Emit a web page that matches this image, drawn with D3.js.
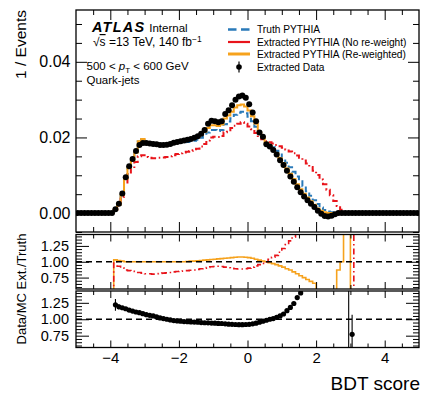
<!DOCTYPE html>
<html><head><meta charset="utf-8">
<script src="https://cdn.jsdelivr.net/npm/d3@7"></script>
<style>
body{margin:0;background:#fff}
svg{display:block}
text{font-family:"Liberation Sans",Arial,Helvetica,sans-serif}
</style>
</head><body>
<svg id="chart" width="422" height="394"></svg>
<script>
// Binning of the BDT score: 100 bins of width 0.1 from -5 to 5
const binLow = -5;
const binWidth = 0.1;

// Normalised distributions (1/Events), one value per bin
const truthPythia = [
 0,0,0,0,0,0,0,0,0,0,0,
 0.0009,0.0022,0.0048,0.0090,0.0120,0.0140,0.0160,0.0189,0.0195,
 0.0187,0.0186,0.0185,0.0184,0.0183,0.0182,0.0182,0.0183,0.0184,0.0185,
 0.0186,0.0187,0.0188,0.0189,0.0191,0.0194,0.0199,0.0205,0.0213,0.0220,
 0.0220,0.0217,0.0220,0.0235,0.0242,0.0251,0.0260,0.0265,0.0268,0.0264,
 0.0255,0.0243,0.0228,0.0210,0.0198,0.0186,0.0181,0.0174,0.0165,0.0155,
 0.0144,0.0133,0.0121,0.0109,0.0097,0.0084,0.0071,0.0058,0.0046,0.0034,
 0.0024,0.0015,0.0008,0.0004,0.0002,0.0001,0.00002,0.00002,0.00001,0.00001,
 0,0,0,0,0,0,0,0,0,0,0,0,0,0,0,0,0,0,0,0
];
const extractedNoReweight = [
 0,0,0,0,0,0,0,0,0,0,0,
 0.0009,0.0020,0.0043,0.0078,0.0103,0.0119,0.0135,0.0150,0.0153,
 0.0148,0.0146,0.0145,0.0145,0.0146,0.0147,0.0148,0.0150,0.0153,0.0156,
 0.0158,0.0160,0.0162,0.0164,0.0166,0.0170,0.0176,0.0183,0.0192,0.0200,
 0.0202,0.0201,0.0204,0.0214,0.0219,0.0225,0.0231,0.0236,0.0240,0.0236,
 0.0229,0.0222,0.0212,0.0201,0.0195,0.0190,0.0187,0.0184,0.0180,0.0177,
 0.0173,0.0168,0.0163,0.0158,0.0152,0.0146,0.0139,0.0131,0.0122,0.0112,
 0.0101,0.0089,0.0076,0.0062,0.0047,0.0032,0.0019,0.0009,0.0003,0.0001,
 0.00005,0,0,0,0,0,0,0,0,0,0,0,0,0,0,0,0,0,0,0
];
const extractedReweighted = [
 0,0,0,0,0,0,0,0,0,0,0,
 0.0009,0.0022,0.0048,0.0090,0.0120,0.0140,0.0160,0.0190,0.0196,
 0.0187,0.0186,0.0185,0.0184,0.0183,0.0182,0.0183,0.0184,0.0186,0.0188,
 0.0189,0.0191,0.0193,0.0195,0.0198,0.0202,0.0208,0.0215,0.0225,0.0232,
 0.0232,0.0230,0.0234,0.0250,0.0258,0.0268,0.0279,0.0285,0.0287,0.0282,
 0.0271,0.0256,0.0237,0.0214,0.0201,0.0186,0.0178,0.0168,0.0158,0.0145,
 0.0132,0.0118,0.0104,0.0090,0.0076,0.0063,0.0051,0.0041,0.0031,0.0022,
 0.0012,0.0006,0.0002,0,0,0,0.00002,0.00002,0.00003,0.00002,
 0,0,0,0,0,0,0,0,0,0,0,0,0,0,0,0,0,0,0,0
];
const extractedData = [
 0,0,0,0,0,0,0,0,0,0,0,
 0.0010,0.0025,0.0052,0.0095,0.0124,0.0143,0.0164,0.0180,0.0185,
 0.0185,0.0184,0.0183,0.0182,0.0180,0.0180,0.0181,0.0183,0.0186,0.0188,
 0.0190,0.0192,0.0194,0.0196,0.0199,0.0203,0.0210,0.0220,0.0236,0.0244,
 0.0243,0.0240,0.0243,0.0262,0.0272,0.0285,0.0300,0.0308,0.0311,0.0305,
 0.0288,0.0266,0.0243,0.0213,0.0202,0.0182,0.0176,0.0167,0.0155,0.0140,
 0.0127,0.0112,0.0097,0.0083,0.0068,0.0055,0.0044,0.0034,0.0025,0.0016,
 0.0006,-0.0002,-0.0008,-0.0009,-0.0007,-0.0003,0,0,0,0,
 0,0,0,0,0,0,0,0,0,0,0,0,0,0,0,0,0,0,0,0
];

// Extracted / Truth ratios
const ratioReweighted = [
 0,0,0,0,0,0,0,0,0,0,0,
 1.03,1.02,1.01,1.00,1.00,1.00,1.00,1.00,1.00,
 1.00,1.00,1.00,1.00,1.00,1.00,1.00,1.00,1.00,1.00,
 1.00,1.00,1.005,1.01,1.01,1.015,1.02,1.025,1.03,1.035,
 1.04,1.045,1.05,1.055,1.06,1.065,1.07,1.075,1.075,1.07,
 1.065,1.055,1.04,1.025,1.01,1.00,0.985,0.97,0.955,0.935,
 0.915,0.89,0.87,0.84,0.81,0.78,0.75,0.72,0.69,0.66,
 0.50,0.40,0.25,0,0,0,0.87,1.00,3.0,2.0,
 0,0,0,0,0,0,0,0,0,0,0,0,0,0,0,0,0,0,0,0
];
const ratioNoReweight = [
 0,0,0,0,0,0,0,0,0,0,0,
 1.00,0.93,0.90,0.87,0.86,0.85,0.845,0.83,0.82,
 0.81,0.81,0.805,0.81,0.815,0.82,0.825,0.83,0.84,0.845,
 0.85,0.855,0.86,0.865,0.87,0.88,0.89,0.90,0.91,0.92,
 0.925,0.93,0.925,0.915,0.905,0.895,0.89,0.885,0.885,0.89,
 0.90,0.915,0.935,0.955,0.975,1.00,1.04,1.07,1.10,1.15,
 1.21,1.27,1.33,1.39,1.47,1.60,1.75,1.95,2.2,2.6,
 3.1,3.9,5.0,7.0,10,15,25,40,60,80,
 100,0,0,0,0,0,0,0,0,0,0,0,0,0,0,0,0,0,0,0
];

// Data / MC ratio with its uncertainty (null: no point drawn)
const dataOverMC = [
 null,null,null,null,null,null,null,null,null,null,null,
 1.22,1.19,1.175,1.16,1.14,1.125,1.11,1.10,1.085,
 1.07,1.06,1.05,1.035,1.02,1.01,1.00,0.99,0.98,0.975,
 0.97,0.965,0.962,0.96,0.957,0.955,0.95,0.947,0.945,0.942,
 0.94,0.937,0.935,0.93,0.925,0.922,0.92,0.918,0.918,0.92,
 0.922,0.93,0.94,0.955,0.97,0.985,1.00,1.01,1.03,1.05,
 1.08,1.13,1.18,1.24,1.33,1.40,1.48,1.60,1.75,1.95,
 2.3,null,null,null,null,null,null,null,null,2.0,
 0.77,null,null,null,null,null,null,null,null,null,null,null,null,null,null,null,null,null,null,null
];
const dataOverMCErr = [
 0,0,0,0,0,0,0,0,0,0,0,
 0.09,0.04,0.025,0.015,0.015,0.015,0.015,0.012,0.012,
 0.01,0.01,0.01,0.01,0.01,0.01,0.01,0.01,0.01,0.01,
 0.01,0.01,0.01,0.01,0.01,0.01,0.01,0.01,0.01,0.01,
 0.01,0.01,0.01,0.01,0.01,0.01,0.01,0.01,0.01,0.01,
 0.01,0.01,0.01,0.01,0.01,0.01,0.01,0.01,0.012,0.012,
 0.015,0.015,0.02,0.02,0.025,0.03,0.03,0.04,0.05,0.06,
 0.1,0,0,0,0,0,0,0,0,3.0,
 0.3,0,0,0,0,0,0,0,0,0,0,0,0,0,0,0,0,0,0,0
];

// Axis ticks
const xMajorTicks = [-4, -2, 0, 2, 4];
const xMinorTicks = [-4.5,-3.5,-3,-2.5,-1.5,-1,-0.5,0.5,1,1.5,2.5,3,3.5,4.5];
const yMainMajor = [0, 0.02, 0.04];
const yMainMinor = [-0.005,0.005,0.01,0.015,0.025,0.03,0.035,0.045,0.05];
const yRatioMajor = [0.75, 1.00, 1.25];
const yRatioMinor = [0.6,0.65,0.7,0.8,0.85,0.9,0.95,1.05,1.1,1.15,1.2,1.3,1.35,1.4];

const colTruth = "#2a7ab9", colNoRw = "#e8141b", colRw = "#f6a21d";
const FONT = '"Liberation Sans",Arial,Helvetica,sans-serif';

const svg = d3.select("#chart");
svg.append("rect").attr("width",422).attr("height",394).attr("fill","#fff");

const X0 = 76, X1 = 419;
const x = d3.scaleLinear().domain([-5, 5]).range([X0, X1]);

const panels = [
  {id:"main", top:10, bottom:232, y:d3.scaleLinear().domain([-0.005,0.0537]).range([232,10])},
  {id:"r1", top:234.5, bottom:289, y:d3.scaleLinear().domain([0.57,1.43]).range([289,234.5])},
  {id:"r2", top:291, bottom:347.5, y:d3.scaleLinear().domain([0.57,1.43]).range([347.5,291])}
];
const defs = svg.append("defs");
panels.forEach(p => {
  defs.append("clipPath").attr("id","clip-"+p.id)
    .append("rect").attr("x",X0).attr("y",p.top).attr("width",X1-X0).attr("height",p.bottom-p.top);
  p.g = svg.append("g").attr("clip-path","url(#clip-"+p.id+")");
});
const [pMain, pR1, pR2] = panels;

// step-histogram outline through every bin edge
function stepPath(vals, y) {
  const pts = [];
  vals.forEach((v, i) => {
    const lo = binLow + i*binWidth;
    pts.push([lo, v], [lo + binWidth, v]);
  });
  return d3.line().x(d => x(d[0])).y(d => y(d[1]))(pts);
}
const centre = i => binLow + (i + 0.5)*binWidth;

// ---- main panel ----
pMain.g.append("path").attr("d", stepPath(truthPythia, pMain.y))
  .attr("fill","none").attr("stroke",colTruth).attr("stroke-width",2).attr("stroke-dasharray","6,3.5");
pMain.g.append("path").attr("d", stepPath(extractedNoReweight, pMain.y))
  .attr("fill","none").attr("stroke",colNoRw).attr("stroke-width",2).attr("stroke-dasharray","6,3,1.5,3");
pMain.g.append("path").attr("d", stepPath(extractedReweighted, pMain.y))
  .attr("fill","none").attr("stroke",colRw).attr("stroke-width",2);
pMain.g.selectAll("circle.data").data(extractedData).join("circle")
  .attr("class","data").attr("cx",(d,i)=>x(centre(i))).attr("cy",d=>pMain.y(d))
  .attr("r",3).attr("fill","#000");

// ---- ratio panel: extracted / truth ----
pR1.g.append("path").attr("d", stepPath(ratioReweighted, pR1.y))
  .attr("fill","none").attr("stroke",colRw).attr("stroke-width",1.6);
pR1.g.append("path").attr("d", stepPath(ratioNoReweight, pR1.y))
  .attr("fill","none").attr("stroke",colNoRw).attr("stroke-width",1.6).attr("stroke-dasharray","6,3,1.5,3");

// ---- ratio panel: data / MC ----
const pts = dataOverMC.map((v,i)=>({v, e:dataOverMCErr[i], c:centre(i)})).filter(d=>d.v!==null);
pR2.g.selectAll("line.err").data(pts).join("line").attr("class","err")
  .attr("x1",d=>x(d.c)).attr("x2",d=>x(d.c))
  .attr("y1",d=>pR2.y(d.v-d.e)).attr("y2",d=>pR2.y(d.v+d.e))
  .attr("stroke","#000").attr("stroke-width",1.1);
pR2.g.selectAll("circle.pt").data(pts).join("circle").attr("class","pt")
  .attr("cx",d=>x(d.c)).attr("cy",d=>pR2.y(d.v)).attr("r",2.6).attr("fill","#000");

// unity reference lines
[pR1, pR2].forEach(p => {
  svg.append("line").attr("x1",X0).attr("x2",X1).attr("y1",p.y(1)).attr("y2",p.y(1))
    .attr("stroke","#000").attr("stroke-width",1.6).attr("stroke-dasharray","6,4");
});

// ---- axes (ticks pointing inwards on all four sides) ----
function styleAxis(g){ g.select(".domain").remove(); g.selectAll("line").attr("stroke","#000").attr("stroke-width",1); }
panels.forEach((p, k) => {
  const majX = k === 0 ? 10 : 7, minX = k === 0 ? 5 : 4;
  const showLabels = k === 2;
  svg.append("g").attr("transform",`translate(0,${p.bottom})`)
    .call(d3.axisBottom(x).tickValues(xMinorTicks).tickSize(-minX).tickFormat("")).call(styleAxis);
  const gb = svg.append("g").attr("transform",`translate(0,${p.bottom})`)
    .call(d3.axisBottom(x).tickValues(xMajorTicks).tickSize(-majX).tickPadding(4.5)
      .tickFormat(showLabels ? d3.format("d") : "")).call(styleAxis);
  gb.selectAll("text").attr("font-size",15).attr("font-family",FONT).attr("fill","#000");
  svg.append("g").attr("transform",`translate(0,${p.top})`)
    .call(d3.axisTop(x).tickValues(xMinorTicks).tickSize(-minX).tickFormat("")).call(styleAxis);
  svg.append("g").attr("transform",`translate(0,${p.top})`)
    .call(d3.axisTop(x).tickValues(xMajorTicks).tickSize(-majX).tickFormat("")).call(styleAxis);

  const yMaj = k === 0 ? yMainMajor : yRatioMajor;
  const yMin = k === 0 ? yMainMinor : yRatioMinor;
  const majY = k === 0 ? 11 : 13, minY = k === 0 ? 6 : 6;
  const fmt = d3.format(".2f");
  const gl = svg.append("g").attr("transform",`translate(${X0},0)`)
    .call(d3.axisLeft(p.y).tickValues(yMaj).tickSize(-majY).tickPadding(k===0?5.5:7).tickFormat(fmt)).call(styleAxis);
  gl.selectAll("text").attr("font-size",k===0?16:14.5).attr("font-family",FONT).attr("fill","#000");
  svg.append("g").attr("transform",`translate(${X0},0)`)
    .call(d3.axisLeft(p.y).tickValues(yMin).tickSize(-minY).tickFormat("")).call(styleAxis);
  svg.append("g").attr("transform",`translate(${X1},0)`)
    .call(d3.axisRight(p.y).tickValues(yMaj).tickSize(-majY).tickFormat("")).call(styleAxis);
  svg.append("g").attr("transform",`translate(${X1},0)`)
    .call(d3.axisRight(p.y).tickValues(yMin).tickSize(-minY).tickFormat("")).call(styleAxis);

  svg.append("rect").attr("x",X0).attr("y",p.top).attr("width",X1-X0).attr("height",p.bottom-p.top)
    .attr("fill","none").attr("stroke","#000").attr("stroke-width",1.3);
});

// ---- axis titles ----
svg.append("text").attr("transform","translate(26,10) rotate(-90)").attr("text-anchor","end")
  .attr("font-size",15.5).text("1 / Events");
svg.append("text").attr("transform","translate(26,289) rotate(-90)").attr("text-anchor","middle")
  .attr("font-size",13).text("Data/MC Ext./Truth");
svg.append("text").attr("x",420).attr("y",390).attr("text-anchor","end")
  .attr("font-size",19).text("BDT score");

// ---- ATLAS label block ----
const atlas = svg.append("text").attr("x",92).attr("y",32);
atlas.append("tspan").attr("font-size",14.5).attr("font-weight","bold").attr("font-style","italic")
  .attr("letter-spacing",1.2).text("ATLAS");
atlas.append("tspan").attr("font-size",11.5).attr("dx",4).text("Internal");

const energy = svg.append("text").attr("x",93).attr("y",46).attr("font-size",12);
energy.append("tspan").text("\u221A");
energy.append("tspan").attr("text-decoration","overline").text("s");
energy.append("tspan").text(" =13 TeV, 140 fb");
energy.append("tspan").attr("font-size",8.5).attr("dy",-4.5).text("\u22121");

const ptl = svg.append("text").attr("x",86.5).attr("y",70).attr("font-size",11.5);
ptl.append("tspan").text("500 < ");
ptl.append("tspan").attr("font-style","italic").text("p");
ptl.append("tspan").attr("font-size",8).attr("dy",2.5).text("T");
ptl.append("tspan").attr("dy",-2.5).text(" < 600 GeV");
svg.append("text").attr("x",86.5).attr("y",84).attr("font-size",11.5).text("Quark-jets");

// ---- legend ----
const legendRows = [
  {label:"Truth PYTHIA", kind:"line", color:colTruth, dash:"8.5,4.5", w:2.6},
  {label:"Extracted PYTHIA (No re-weight)", kind:"line", color:colNoRw, dash:null, w:2.2},
  {label:"Extracted PYTHIA (Re-weighted)", kind:"line", color:colRw, dash:null, w:3},
  {label:"Extracted Data", kind:"point"}
];
const legendY = [29.5, 42, 54, 67];
legendRows.forEach((r, i) => {
  const yy = legendY[i];
  if (r.kind === "line") {
    const l = svg.append("line").attr("x1",228).attr("x2",250).attr("y1",yy).attr("y2",yy)
      .attr("stroke",r.color).attr("stroke-width",r.w);
    if (r.dash) l.attr("stroke-dasharray",r.dash);
  } else {
    svg.append("line").attr("x1",239).attr("x2",239).attr("y1",yy-5.5).attr("y2",yy+5.5)
      .attr("stroke","#000").attr("stroke-width",1.2);
    svg.append("circle").attr("cx",239).attr("cy",yy).attr("r",2.8).attr("fill","#000");
  }
  svg.append("text").attr("x",257).attr("y",yy+3.6).attr("font-size",10.2).text(r.label);
});
</script>
</body></html>
